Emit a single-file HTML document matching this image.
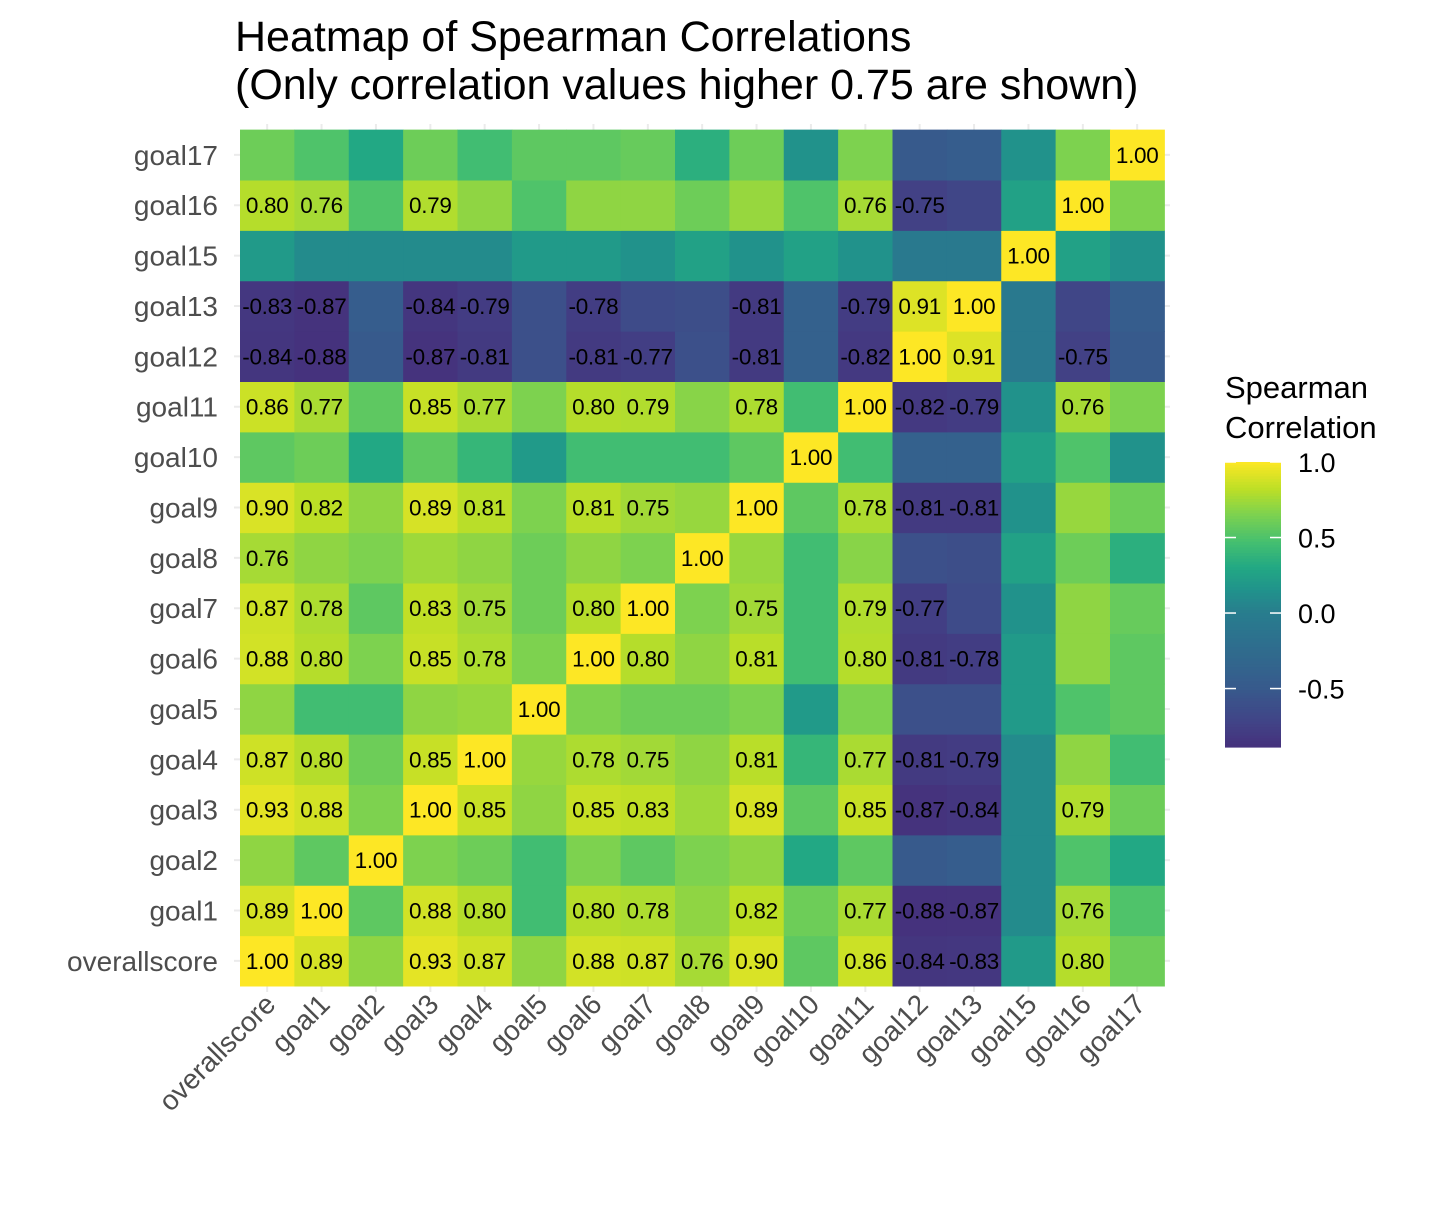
<!DOCTYPE html>
<html><head><meta charset="utf-8"><style>
body{margin:0;background:#fff;font-family:"Liberation Sans",Arial,sans-serif}
</style></head><body>
<svg width="1440" height="1200" xmlns="http://www.w3.org/2000/svg">
<text x="235" y="51" font-size="43" fill="#000">Heatmap of Spearman Correlations</text>
<text x="235" y="99" font-size="43" fill="#000">(Only correlation values higher 0.75 are shown)</text>
<g id="grid"></g><g id="cells"></g><g id="labels"></g><g id="axes"></g><g id="legend"></g>
</svg>
<script>
const vars = ["overallscore","goal1","goal2","goal3","goal4","goal5","goal6","goal7","goal8","goal9","goal10","goal11","goal12","goal13","goal15","goal16","goal17"];
const rOverall = [1,.89,.7,.93,.87,.7,.88,.87,.76,.90,.55,.86,-.84,-.83,.2,.80,.6];
const rG1 = [.89,1,.55,.88,.80,.45,.80,.78,.7,.82,.6,.77,-.88,-.87,.1,.76,.5];
const rG2 = [.7,.55,1,.65,.6,.45,.65,.55,.65,.7,.3,.55,-.5,-.45,.1,.5,.3];
const rG3 = [.93,.88,.65,1,.85,.7,.85,.83,.74,.89,.55,.85,-.87,-.84,.1,.79,.6];
const rG4 = [.87,.80,.6,.85,1,.72,.78,.75,.7,.81,.4,.77,-.81,-.79,.1,.7,.45];
const rG5 = [.7,.45,.45,.7,.72,1,.65,.6,.6,.65,.2,.65,-.6,-.6,.2,.5,.55];
const rG6 = [.88,.80,.65,.85,.78,.65,1,.80,.7,.81,.45,.80,-.81,-.78,.2,.7,.55];
const rG7 = [.87,.78,.55,.83,.75,.6,.80,1,.65,.75,.45,.79,-.77,-.65,.15,.7,.58];
const rG8 = [.76,.7,.65,.74,.7,.6,.7,.65,1,.72,.45,.68,-.6,-.62,.25,.6,.35];
const rG9 = [.90,.82,.7,.89,.81,.65,.81,.75,.72,1,.55,.78,-.81,-.81,.15,.72,.6];
const rG10 = [.55,.6,.3,.55,.4,.2,.45,.45,.45,.55,1,.45,-.4,-.4,.25,.5,.15];
const rG11 = [.86,.77,.55,.85,.77,.65,.80,.79,.68,.78,.45,1,-.82,-.79,.15,.76,.65];
const rG12 = [-.84,-.88,-.5,-.87,-.81,-.6,-.81,-.77,-.6,-.81,-.4,-.82,1,.91,-.05,-.75,-.5];
const rG13 = [-.83,-.87,-.45,-.84,-.79,-.6,-.78,-.65,-.62,-.81,-.4,-.79,.91,1,-.05,-.7,-.45];
const rG15 = [.2,.1,.1,.1,.1,.2,.2,.15,.25,.15,.25,.15,-.05,-.05,1,.25,.15];
const rG16 = [.80,.76,.5,.79,.7,.5,.7,.7,.6,.72,.5,.76,-.75,-.7,.25,1,.65];
const rG17 = [.6,.5,.3,.6,.45,.55,.55,.58,.35,.6,.15,.65,-.5,-.45,.15,.65,1];
const matrix = [rOverall,rG1,rG2,rG3,rG4,rG5,rG6,rG7,rG8,rG9,rG10,rG11,rG12,rG13,rG15,rG16,rG17];
const legendTicks = [1.0,0.5,0.0,-0.5];
const legendTickLabels = ["1.0","0.5","0.0","-0.5"];
const threshold = 0.75;

const NS="http://www.w3.org/2000/svg";
const X0=240,Y1=986,CW=54.375,CH=50.375,N=vars.length;
const VMIN=-0.887,VMAX=1.0;
const xPos=i=>X0+i*CW;
const yPos=j=>Y1-(j+1)*CH;
const stops=["#440154","#482475","#414487","#355F8D","#2A788E","#21908C","#22A884","#44BF70","#7AD151","#BDDF26","#FDE725"];
// value -> position on palette (matches reference legend)
const mapV=[-0.887,-0.5,0,0.5,1.0], mapT=[0.14,0.28,0.42,0.72,1.0];
function tOf(v){v=Math.max(VMIN,Math.min(VMAX,v));for(let i=0;i<4;i++){if(v<=mapV[i+1]){const f=(v-mapV[i])/(mapV[i+1]-mapV[i]);return mapT[i]+f*(mapT[i+1]-mapT[i]);}}return 1;}
function hex(h){return [1,3,5].map(k=>parseInt(h.substr(k,2),16));}
function color(v){const t=tOf(v);const s=t*10,i=Math.min(9,Math.floor(s)),f=s-i;const a=hex(stops[i]),b=hex(stops[i+1]);return "rgb("+a.map((c,k)=>Math.round(c+(b[k]-c)*f)).join(",")+")";}
function mk(tag,attrs,parent){const e=document.createElementNS(NS,tag);for(const k in attrs)e.setAttribute(k,attrs[k]);parent.appendChild(e);return e;}

const grid=document.getElementById("grid"),cells=document.getElementById("cells"),labels=document.getElementById("labels"),axes=document.getElementById("axes"),legend=document.getElementById("legend");
for(let i=0;i<N;i++){
  const gx=mk("line",{x1:xPos(i)+CW/2,x2:xPos(i)+CW/2,y1:124,y2:992,stroke:"#ebebeb","stroke-width":2},grid);
  
  
  const gy=mk("line",{x1:234,x2:1170,y1:yPos(i)+CH/2,y2:yPos(i)+CH/2,stroke:"#ebebeb","stroke-width":2},grid);
  
  
}
for(let r=0;r<N;r++){for(let c=0;c<N;c++){
  const v=matrix[r][c];
  const rect=mk("rect",{x:xPos(c),y:yPos(r),width:CW+0.5,height:CH+0.5,fill:color(v)},cells);
  
  
  if(Math.abs(v)>=threshold){
    const t=mk("text",{x:xPos(c)+CW/2,y:yPos(r)+CH/2+8,"font-size":22.5,"text-anchor":"middle",fill:"#000","letter-spacing":"-0.3"},labels);
    t.textContent=v.toFixed(2);
    
    
  }
}}
for(let i=0;i<N;i++){
  const yl=mk("text",{x:218,y:yPos(i)+CH/2+10,"font-size":28,"text-anchor":"end",fill:"#4d4d4d"},axes);
  yl.textContent=vars[i];
  
  
  const cx=xPos(i)+CW/2+10,cy=1006;
  const xl=mk("text",{x:cx,y:cy,"font-size":28,"text-anchor":"end",fill:"#4d4d4d",transform:"rotate(-45 "+cx+" "+cy+")"},axes);
  xl.textContent=vars[i];
  
  
}
// legend
const lt1=mk("text",{x:1225,y:398,"font-size":31,fill:"#000"},legend);lt1.textContent="Spearman";


const lt2=mk("text",{x:1225,y:438,"font-size":31,fill:"#000"},legend);lt2.textContent="Correlation";


const LB0=1225,LBW=56,LY0=462,LY1=747;
const ly=v=>LY0+(VMAX-v)/(VMAX-VMIN)*(LY1-LY0);
for(let k=0;k<100;k++){
  const v0=VMAX-(VMAX-VMIN)*k/100;
  const s=mk("rect",{x:LB0,y:ly(v0),width:LBW,height:(LY1-LY0)/100+0.6,fill:color(v0-(VMAX-VMIN)/200)},legend);
  
  
}
legendTicks.forEach((v,i)=>{
  const y=ly(v);
  const a=mk("line",{x1:LB0,x2:LB0+11,y1:y,y2:y,stroke:"#fff","stroke-width":1.5},legend);
  
  
  const b=mk("line",{x1:LB0+LBW-11,x2:LB0+LBW,y1:y,y2:y,stroke:"#fff","stroke-width":1.5},legend);
  
  
  const t=mk("text",{x:1298,y:y+10,"font-size":27,fill:"#000"},legend);
  t.textContent=legendTickLabels[i];
  
  
});
</script>
</body></html>
